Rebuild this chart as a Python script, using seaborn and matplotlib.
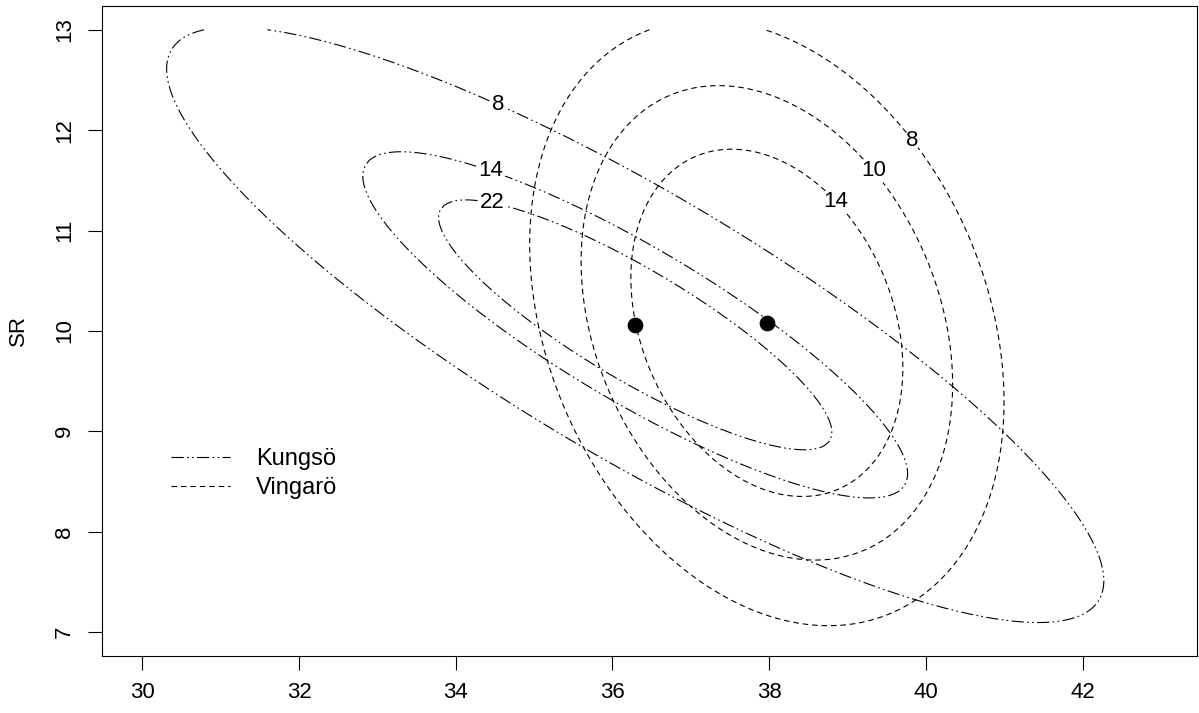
import numpy as np
import pandas as pd
import matplotlib
matplotlib.use("Agg")
import matplotlib.pyplot as plt
from matplotlib.lines import Line2D
import seaborn as sns

# centre of each group (x, SR)
kung_mean = [36.29, 10.06]
ving_mean = [37.97, 10.08]
# half widths of the innermost contour and correlation
kung_sd = [2.51, 1.245]
kung_rho = -0.86
ving_sd = [1.735, 1.73]
ving_rho = -0.26
# surface shape: base + amp / r**power
kung_surf = [4.67, 17.33, 1.9]
ving_surf = [3.82, 10.18, 1.6]
kung_levels = [8, 14, 22]
ving_levels = [8, 10, 14]
groups = ["Kungsö", "Vingarö"]

x_ticks = [30, 32, 34, 36, 38, 40, 42]
y_ticks = [7, 8, 9, 10, 11, 12, 13]


def surface(X, Y, mean, sd, rho, surf):
    dx = (X - mean[0]) / sd[0]
    dy = (Y - mean[1]) / sd[1]
    q = (dx ** 2 - 2 * rho * dx * dy + dy ** 2) / (1 - rho ** 2)
    base, amp, power = surf
    return base + amp / np.maximum(q, 1e-9) ** (power / 2)


sns.set_style("ticks")
plt.rcParams['font.family'] = ['Liberation Sans', 'DejaVu Sans']
for key in ["text.color", "axes.labelcolor", "xtick.color", "ytick.color",
            "axes.edgecolor"]:
    plt.rcParams[key] = "black"

fig = plt.figure(figsize=(11.99, 7.13), dpi=100)
ax = fig.add_axes([0.0847, 0.0799, 0.9137, 0.9121])

gx = np.linspace(30, 43, 261)
gy = np.linspace(7, 13, 121)
X, Y = np.meshgrid(gx, gy)
Zk = surface(X, Y, kung_mean, kung_sd, kung_rho, kung_surf)
Zv = surface(X, Y, ving_mean, ving_sd, ving_rho, ving_surf)

kdash = (0, (11, 3, 1.5, 3, 1.5, 3))
vdash = (0, (5, 3.5))

cs_k = ax.contour(X, Y, Zk, levels=kung_levels, colors="black", linewidths=0.8)
cs_k.set_linestyle([kdash])
cs_v = ax.contour(X, Y, Zv, levels=ving_levels, colors="black", linewidths=0.8)
cs_v.set_linestyle([vdash])

lab_k = ax.clabel(cs_k, fmt="%d", fontsize=16, inline=True, inline_spacing=4,
                  manual=[(34.49, 12.17), (34.49, 11.70), (34.49, 11.35)])
lab_v = ax.clabel(cs_v, fmt="%d", fontsize=16, inline=True, inline_spacing=4,
                  manual=[(39.99, 12.0), (39.49, 11.70), (38.94, 11.35)])
for t in list(lab_k) + list(lab_v):
    t.set_rotation(0)
    t.set_color("black")

means = pd.DataFrame({"x": [kung_mean[0], ving_mean[0]],
                      "SR": [kung_mean[1], ving_mean[1]],
                      "group": groups})
sns.scatterplot(data=means, x="x", y="SR", color="black", s=110,
                edgecolor="black", legend=False, ax=ax, zorder=5)

handles = [Line2D([], [], color="black", lw=0.8, linestyle=kdash),
           Line2D([], [], color="black", lw=0.8, linestyle=vdash)]
ax.legend(handles, groups, loc="upper left", bbox_to_anchor=(0.044, 0.352),
          frameon=False, fontsize=17, handlelength=2.5, handletextpad=1.1,
          labelspacing=0.3)

ax.set_xlim(29.48, 43.46)
ax.set_ylim(6.76, 13.24)
ax.set_xticks(x_ticks)
ax.set_yticks(y_ticks)
ax.set_xticklabels([str(v) for v in x_ticks])
ax.set_yticklabels([str(v) for v in y_ticks], rotation=90, va="center")
ax.tick_params(axis="both", length=10, width=0.8, labelsize=16, color="black",
               labelcolor="black")
ax.tick_params(axis="x", pad=9)
ax.tick_params(axis="y", pad=9)
ax.set_xlabel("")
ax.set_ylabel("SR", fontsize=16)
ax.yaxis.set_label_coords(-0.066, 0.5)
for s in ax.spines.values():
    s.set_visible(True)
    s.set_color("black")
    s.set_linewidth(0.8)

fig.savefig("out.png", dpi=100)
